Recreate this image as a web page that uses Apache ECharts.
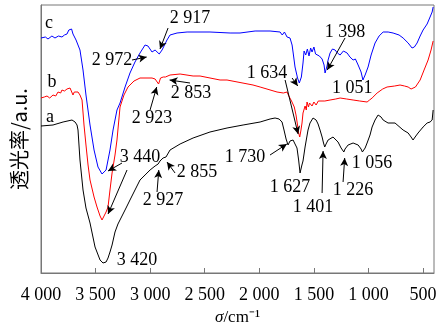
<!DOCTYPE html>
<html><head><meta charset="utf-8">
<script src="https://cdn.jsdelivr.net/npm/echarts@6/dist/echarts.min.js"></script>
<style>html,body{margin:0;padding:0;background:#fff}#c{width:446px;height:331px}</style>
</head><body><div id="c"></div>
<script>
// x tick labels (wavenumber, cm^-1)
const xTicks = [4000, 3500, 3000, 2500, 2000, 1500, 1000, 500];

// curve a (black)
const waveA = [4000,3890,3798,3716,3688,3670,3661,3643,3615,3588,3551,3505,3459,3432,3404,3386,3368,3349,3322,3295,3258,3221,3185,3139,3093,3047,3001,2955,2927,2910,2882,2864,2855,2846,2818,2726,2607,2452,2296,2149,1993,1902,1856,1819,1792,1774,1755,1737,1730,1719,1691,1673,1655,1640,1627,1610,1600,1581,1554,1536,1508,1480,1462,1444,1425,1412,1401,1389,1370,1325,1279,1251,1226,1215,1187,1141,1095,1068,1056,1031,1013,986,967,940,912,885,866,821,757,683,637,610,592,573,546,500,463,436,417,408];
const valA  = [147,148,151,153,151,148,143,113,83,65,50,26,13,10,11,15,21,28,41,49,57,65,73,83,93,98,103,107,109,112,115,115,116,116,123,129,135,141,145,148,151,154,155,154,151,143,134,128,128,132,133,131,125,113,100,108,112,126,143,150,155,153,149,143,136,130,126,129,133,136,131,125,121,124,128,130,128,124,121,125,130,138,146,153,158,156,153,150,150,143,140,136,133,136,140,146,150,151,153,163];

// curve b (red)
const waveB = [4000,3970,3945,3920,3890,3865,3844,3820,3808,3785,3762,3745,3734,3720,3707,3695,3679,3661,3643,3624,3606,3588,3569,3551,3514,3487,3459,3441,3423,3404,3386,3368,3349,3322,3304,3276,3240,3203,3148,3093,2983,2955,2940,2923,2905,2880,2860,2853,2845,2818,2726,2607,2543,2360,2296,2058,1993,1838,1780,1746,1730,1719,1705,1691,1680,1664,1650,1640,1630,1620,1609,1600,1590,1581,1570,1563,1550,1540,1517,1500,1480,1460,1444,1400,1352,1300,1260,1200,1141,1080,1013,990,967,921,870,830,760,711,670,637,610,592,570,555,527,491,454,427,408];
const valB  = [175,176,177,175,178,177,181,180,183,182,184,186,185,187,178,181,180,181,178,173,148,128,108,93,76,66,57,53,55,61,66,83,100,118,133,166,178,186,192,195,195,194,194,189,195,196,196,194,197,198,199,197,197,193,193,188,186,181,180,181,177,178,172,171,166,158,148,140,136,142,150,160,158,167,163,171,166,170,167,171,168,172,171,172,173,174,175,174,173,172,171,173,175,180,184,186,187,188,187,186,184,183,186,188,193,203,213,223,232];

// curve c (blue)
const waveC = [4000,3960,3936,3900,3872,3840,3808,3785,3762,3745,3734,3720,3707,3695,3679,3661,3643,3615,3588,3551,3514,3478,3441,3404,3368,3340,3304,3276,3230,3185,3139,3093,3047,3020,2983,2972,2955,2937,2917,2891,2864,2846,2818,2754,2662,2452,2268,2177,2039,1902,1810,1790,1770,1746,1719,1700,1690,1673,1650,1634,1615,1600,1590,1575,1560,1545,1530,1517,1500,1485,1471,1450,1425,1407,1398,1380,1370,1352,1330,1306,1285,1260,1230,1196,1170,1141,1120,1095,1068,1051,1031,1004,976,940,903,866,820,775,720,683,637,601,580,555,527,500,463,436,417,408];
const valC  = [235,236,234,237,235,237,236,238,239,243,242,244,239,240,233,228,223,203,178,148,123,106,99,103,123,143,163,170,186,200,211,220,228,227,221,219,223,225,219,223,229,233,238,240,241,241,240,240,242,242,241,238,241,236,235,228,220,206,195,190,196,210,222,218,224,217,225,221,226,219,220,217,214,208,200,207,213,220,224,223,220,218,222,220,216,213,214,208,201,193,198,206,218,230,237,241,241,240,238,235,230,225,226,230,237,243,249,256,261,266];

// annotation texts and arrows (data coordinates)
const notes = [
  {t:'c', w:3927, v:250}, {t:'b', w:3899, v:191}, {t:'a', w:3918, v:156},
  {t:'2 917', w:2635, v:255}, {t:'2 972', w:3349, v:213},
  {t:'2 923', w:2983, v:155}, {t:'2 853', w:2625, v:180},
  {t:'1 634', w:1929, v:200}, {t:'1 398', w:1215, v:241}, {t:'1 051', w:1150, v:185},
  {t:'3 440', w:3093, v:116}, {t:'3 420', w:3120, v:13},
  {t:'2 927', w:2882, v:73}, {t:'2 855', w:2571, v:101},
  {t:'1 730', w:2131, v:116}, {t:'1 627', w:1719, v:86},
  {t:'1 401', w:1508, v:66}, {t:'1 226', w:1141, v:83}, {t:'1 056', w:967, v:110}
];
const arrows = [
  [[2836,245],[2910,224]], [[3166,213],[3032,216]], [[3001,163],[2940,186]],
  [[2635,190],[2822,193]], [[1700,195],[1648,187]], [[1764,193],[1645,139]],
  [[1215,235],[1378,203]], [[3258,110],[3386,102]], [[3212,103],[3386,59]],
  [[2937,81],[2921,103]], [[2772,100],[2846,111]], [[1902,118],[1748,129]],
  [[1425,80],[1416,122]], [[1233,91],[1218,115]]
];

const zip = (w, v) => w.map((x, i) => [x, v[i]]);
const serif = 'Liberation Serif';
const chart = echarts.init(document.getElementById('c'), null, {renderer: 'canvas'});

function fmt(v) {
  return v >= 1000 ? Math.floor(v / 1000) + ' ' + String(v % 1000).padStart(3, '0') : String(v);
}

chart.setOption({
  animation: false,
  grid: {left: 41, right: 12, top: 5, bottom: 58, show: true, borderColor: '#777', borderWidth: 1},
  xAxis: {
    type: 'value', inverse: true, min: 400, max: 4000,
    axisLine: {show: true, lineStyle: {color: '#777'}},
    axisTick: {show: true, inside: true, length: 5, customValues: xTicks, lineStyle: {color: '#777'}},
    axisLabel: {show: true, customValues: xTicks, formatter: fmt, color: '#000', fontFamily: serif, fontSize: 18, margin: 13},
    splitLine: {show: false},
    name: '{i|σ}/cm⁻¹', nameLocation: 'middle', nameGap: 32,
    nameTextStyle: {color: '#000', fontFamily: serif, fontSize: 17,
      rich: {i: {fontStyle: 'italic', fontFamily: serif, fontSize: 17, color: '#000'}}}
  },
  yAxis: {
    type: 'value', min: 0, max: 268,
    axisLine: {show: true, lineStyle: {color: '#777'}},
    axisTick: {show: false}, axisLabel: {show: false}, splitLine: {show: false},
    name: '透光率/a.u.', nameLocation: 'middle', nameGap: 12,
    nameTextStyle: {color: '#000', fontFamily: 'Noto Sans CJK SC', fontSize: 20}
  },
  series: [
    {type: 'line', data: zip(waveA, valA), showSymbol: false, lineStyle: {color: '#000', width: 1}, itemStyle: {color: '#000'},
     markLine: {silent: true, symbol: ['none', 'arrow'], symbolSize: [6, 8], label: {show: false},
       lineStyle: {color: '#000', width: 1, type: 'solid'},
       data: arrows.map(a => [{coord: a[0]}, {coord: a[1]}])}},
    {type: 'line', data: zip(waveB, valB), showSymbol: false, lineStyle: {color: '#ff0000', width: 1}, itemStyle: {color: '#ff0000'}},
    {type: 'line', data: zip(waveC, valC), showSymbol: false, lineStyle: {color: '#0000ff', width: 1}, itemStyle: {color: '#0000ff'}}
  ]
});

chart.setOption({
  graphic: notes.map(n => {
    const p = chart.convertToPixel({gridIndex: 0}, [n.w, n.v]);
    return {type: 'text', x: p[0], y: p[1], silent: true,
      style: {text: n.t, fill: '#000', fontFamily: serif, fontSize: 18, align: 'center', verticalAlign: 'middle'}};
  })
});
</script></body></html>
